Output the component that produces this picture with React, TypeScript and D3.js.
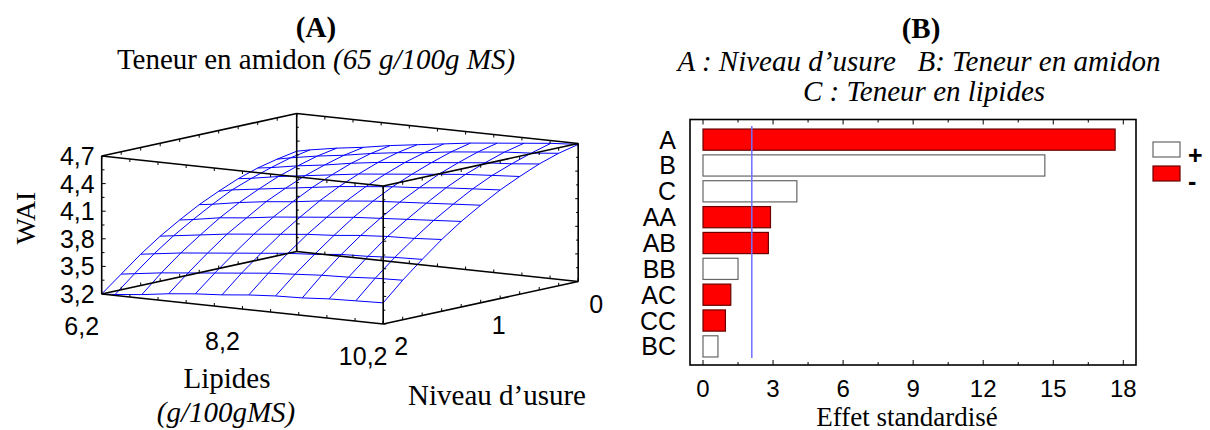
import React from "react";
import * as d3 from "d3";

// ---------- Panel A data ----------
const zTicks = [3.2, 3.5, 3.8, 4.1, 4.4, 4.7];
const zTickLabels = ["3,2", "3,5", "3,8", "4,1", "4,4", "4,7"];
const lipTicks = [6.2, 8.2, 10.2];
const lipTickLabels = ["6,2", "8,2", "10,2"];
const nivTicks = [2, 1, 0];
const nivTickLabels = ["2", "1", "0"];

const lipidesGrid = [6.2, 6.39, 6.77, 7.15, 7.53, 7.91, 8.29, 8.67, 9.05, 9.43, 9.81, 10.2];
const niveauGrid = [0, 0.2, 0.4, 0.6, 0.8, 1.0, 1.2, 1.4, 1.6, 1.8, 2.0];
// WAI values: one row per niveau d'usure, one column per lipides value
const waiGrid = [
  [4.29, 4.32, 4.37, 4.41, 4.46, 4.50, 4.54, 4.58, 4.61, 4.64, 4.67, 4.69],
  [4.25, 4.28, 4.33, 4.37, 4.42, 4.46, 4.49, 4.53, 4.56, 4.59, 4.61, 4.64],
  [4.20, 4.22, 4.27, 4.31, 4.36, 4.40, 4.43, 4.46, 4.49, 4.52, 4.54, 4.57],
  [4.13, 4.15, 4.20, 4.24, 4.28, 4.32, 4.35, 4.38, 4.41, 4.44, 4.46, 4.48],
  [4.04, 4.07, 4.11, 4.15, 4.19, 4.23, 4.26, 4.29, 4.31, 4.34, 4.36, 4.38],
  [3.94, 3.96, 4.01, 4.05, 4.08, 4.12, 4.15, 4.18, 4.20, 4.22, 4.24, 4.26],
  [3.82, 3.84, 3.89, 3.92, 3.96, 3.99, 4.02, 4.05, 4.07, 4.09, 4.11, 4.13],
  [3.69, 3.71, 3.75, 3.79, 3.82, 3.85, 3.88, 3.90, 3.93, 3.95, 3.96, 3.98],
  [3.54, 3.56, 3.60, 3.63, 3.66, 3.69, 3.72, 3.74, 3.77, 3.78, 3.80, 3.81],
  [3.37, 3.39, 3.43, 3.46, 3.49, 3.52, 3.55, 3.57, 3.59, 3.60, 3.62, 3.63],
  [3.20, 3.21, 3.24, 3.28, 3.31, 3.33, 3.36, 3.38, 3.39, 3.41, 3.42, 3.43],
];

// ---------- Panel B data ----------
const effects = ["A", "B", "C", "AA", "AB", "BB", "AC", "CC", "BC"];
const effectValues = [17.65, 14.64, 4.02, 2.89, 2.8, 1.5, 1.19, 0.96, 0.64];
const effectSigns = ["-", "+", "+", "-", "-", "+", "-", "-", "+"];
const significanceLine = 2.09;
const effectTicks = [0, 3, 6, 9, 12, 15, 18];
const legendItems = ["+", "-"];

const SERIF = "'Liberation Serif', 'Times New Roman', serif";
const SANS = "'Liberation Sans', Arial, sans-serif";

export default function App() {
  // ---- 3D oblique projection for panel A ----
  const lipS = d3.scaleLinear().domain([6.2, 10.2]).range([0, 1]);
  const nivS = d3.scaleLinear().domain([2, 0]).range([0, 1]);
  const zS = d3.scaleLinear().domain([3.2, 4.7]).range([0, 138]).clamp(true);
  const O = [101.7, 294];
  const lipV = [281.5, 30];
  const nivV = [195, -42.5];
  const proj = (lip: number, niv: number, w: number): [number, number] => {
    const a = lipS(lip);
    const b = nivS(niv);
    return [O[0] + a * lipV[0] + b * nivV[0], O[1] + a * lipV[1] + b * nivV[1] - zS(w)];
  };
  const line = d3.line();

  const lipEnds = [6.2, 10.2];
  const nivEnds = [2, 0];
  const wEnds = [3.2, 4.7];
  const edges: [number, number][][] = [];
  for (const w of wEnds) {
    edges.push([proj(6.2, 2, w), proj(10.2, 2, w)]);
    edges.push([proj(10.2, 2, w), proj(10.2, 0, w)]);
    edges.push([proj(10.2, 0, w), proj(6.2, 0, w)]);
    edges.push([proj(6.2, 0, w), proj(6.2, 2, w)]);
  }
  for (const l of lipEnds) for (const n of nivEnds) edges.push([proj(l, n, 3.2), proj(l, n, 4.7)]);

  // edge ticks
  const boxTicks: string[] = [];
  const wMinor = d3.range(0, 11).map((i) => 3.2 + i * 0.15);
  const verts: [number, number, number][] = [
    [6.2, 2, 4],
    [10.2, 2, 3],
    [10.2, 0, -3],
    [6.2, 0, 3],
  ];
  for (const [l, n, dx] of verts) {
    for (const w of wMinor) {
      const [px, py] = proj(l, n, w);
      const major = Math.abs((w - 3.2) / 0.3 - Math.round((w - 3.2) / 0.3)) < 0.01;
      const len = major ? dx : dx * 0.7;
      boxTicks.push(`M${px},${py}L${px + len},${py}`);
    }
  }
  const lipMinor = d3.range(0, 11).map((i) => 6.2 + i * 0.4);
  const nivMinor = d3.range(0, 11).map((i) => i * 0.2);
  for (const w of wEnds) {
    const dy = w === 3.2 ? -3 : 3;
    for (const n of nivEnds)
      for (const l of lipMinor) {
        const [px, py] = proj(l, n, w);
        boxTicks.push(`M${px},${py}L${px},${py + dy}`);
      }
    for (const l of lipEnds)
      for (const n of nivMinor) {
        const [px, py] = proj(l, n, w);
        boxTicks.push(`M${px},${py}L${px},${py + dy}`);
      }
  }

  const meshRows = niveauGrid.map((n, i) => line(lipidesGrid.map((l, j) => proj(l, n, waiGrid[i][j]))));
  const meshCols = lipidesGrid.map((l, j) => line(niveauGrid.map((n, i) => proj(l, n, waiGrid[i][j]))));

  // ---- Panel B scales ----
  const x = d3.scaleLinear().domain([0, 18]).range([703, 1123.3]);
  const y = d3.scaleBand().domain(effects).range([126.7, 359.3]).paddingInner(0.18).paddingOuter(0.09);
  const frame = { x0: 690, y0: 119.5, x1: 1136, y1: 365 };
  const minorTicks = d3.range(0, 13).map((i) => i * 1.5);

  return (
    <svg
      width={1210}
      height={430}
      style={{ position: "absolute", left: 0, top: 0, background: "#fff" }}
      xmlns="http://www.w3.org/2000/svg"
    >
      {/* ===== Panel A ===== */}
      <text x={316} y={37} textAnchor="middle" fontFamily={SERIF} fontWeight="bold" fontSize={29}>
        (A)
      </text>
      <text x={316} y={69} textAnchor="middle" fontFamily={SERIF} fontSize={29}>
        Teneur en amidon <tspan fontStyle="italic">(65 g/100g MS)</tspan>
      </text>

      <g fill="none" stroke="#0000ff" strokeWidth={1}>
        {meshRows.map((d, i) => (
          <path key={"r" + i} d={d || ""} />
        ))}
        {meshCols.map((d, i) => (
          <path key={"c" + i} d={d || ""} />
        ))}
      </g>
      <g stroke="#000" strokeWidth={1.6} fill="none">
        {edges.map((e, i) => (
          <path key={i} d={line(e) || ""} />
        ))}
      </g>
      <path d={boxTicks.join("")} stroke="#000" strokeWidth={1} fill="none" />

      <g fontFamily={SANS} fontSize={25}>
        {zTicks.map((t, i) => {
          const [px, py] = proj(6.2, 2, t);
          return (
            <text key={i} x={px - 7} y={py} textAnchor="end" dominantBaseline="central">
              {zTickLabels[i]}
            </text>
          );
        })}
        {lipTicks.map((t, i) => {
          const [px, py] = proj(t, 2, 3.2);
          return (
            <text key={i} x={px - 20} y={py + 32} textAnchor="middle" dominantBaseline="central">
              {lipTickLabels[i]}
            </text>
          );
        })}
        {nivTicks.map((t, i) => {
          const [px, py] = proj(10.2, t, 3.2);
          return (
            <text key={i} x={px + 18} y={py + 22} textAnchor="middle" dominantBaseline="central">
              {nivTickLabels[i]}
            </text>
          );
        })}
      </g>
      <text
        transform="translate(25,218) rotate(-90)"
        textAnchor="middle"
        dominantBaseline="central"
        fontFamily={SERIF}
        fontSize={28}
      >
        WAI
      </text>
      <text x={227} y={378} textAnchor="middle" dominantBaseline="central" fontFamily={SERIF} fontSize={29}>
        Lipides
      </text>
      <text
        x={226}
        y={412}
        textAnchor="middle"
        dominantBaseline="central"
        fontFamily={SERIF}
        fontSize={29}
        fontStyle="italic"
      >
        (g/100gMS)
      </text>
      <text x={497} y={395} textAnchor="middle" dominantBaseline="central" fontFamily={SERIF} fontSize={29}>
        Niveau d’usure
      </text>

      {/* ===== Panel B ===== */}
      <text x={921} y={38} textAnchor="middle" fontFamily={SERIF} fontWeight="bold" fontSize={29}>
        (B)
      </text>
      <text x={919} y={71} textAnchor="middle" fontFamily={SERIF} fontStyle="italic" fontSize={29}>
        A : Niveau d’usure{"\u00a0\u00a0\u00a0"}B: Teneur en amidon
      </text>
      <text x={924} y={101} textAnchor="middle" fontFamily={SERIF} fontStyle="italic" fontSize={29}>
        C : Teneur en lipides
      </text>

      <rect
        x={frame.x0}
        y={frame.y0}
        width={frame.x1 - frame.x0}
        height={frame.y1 - frame.y0}
        fill="#fff"
        stroke="#000"
        strokeWidth={1.6}
      />
      <g stroke="#000" strokeWidth={1}>
        {minorTicks.map((t, i) => {
          const len = i % 2 === 0 ? 5 : 3;
          return (
            <g key={i}>
              <line x1={x(t)} x2={x(t)} y1={frame.y1} y2={frame.y1 - len} />
              <line x1={x(t)} x2={x(t)} y1={frame.y0} y2={frame.y0 + len} />
            </g>
          );
        })}
      </g>
      {effects.map((e, i) => (
        <rect
          key={e}
          x={x(0)}
          y={y(e)}
          width={x(effectValues[i]) - x(0)}
          height={y.bandwidth()}
          fill={effectSigns[i] === "-" ? "#ff0000" : "#ffffff"}
          stroke={effectSigns[i] === "-" ? "#6a0000" : "#666"}
          strokeWidth={1.2}
        />
      ))}
      <line
        x1={x(significanceLine)}
        x2={x(significanceLine)}
        y1={126}
        y2={358}
        stroke="#6f6fff"
        strokeWidth={1.5}
      />
      <g fontFamily={SANS} fontSize={25}>
        {effects.map((e) => (
          <text key={e} x={676} y={(y(e) || 0) + y.bandwidth() / 2} textAnchor="end" dominantBaseline="central">
            {e}
          </text>
        ))}
      </g>
      <g fontFamily={SANS} fontSize={24}>
        {effectTicks.map((t) => (
          <text key={t} x={x(t)} y={388} textAnchor="middle" dominantBaseline="central">
            {t}
          </text>
        ))}
      </g>
      <text x={907} y={416.5} textAnchor="middle" dominantBaseline="central" fontFamily={SERIF} fontSize={27}>
        Effet standardisé
      </text>

      {/* legend */}
      {legendItems.map((s, i) => (
        <g key={s}>
          <rect
            x={1153}
            y={142 + i * 24}
            width={27}
            height={15}
            fill={s === "-" ? "#ff0000" : "#fff"}
            stroke={s === "-" ? "#6a0000" : "#666"}
            strokeWidth={1.2}
          />
          <text
            x={1188}
            y={155 + i * 26}
            fontFamily={SANS}
            fontWeight="bold"
            fontSize={25}
            dominantBaseline="central"
          >
            {s}
          </text>
        </g>
      ))}
    </svg>
  );
}
